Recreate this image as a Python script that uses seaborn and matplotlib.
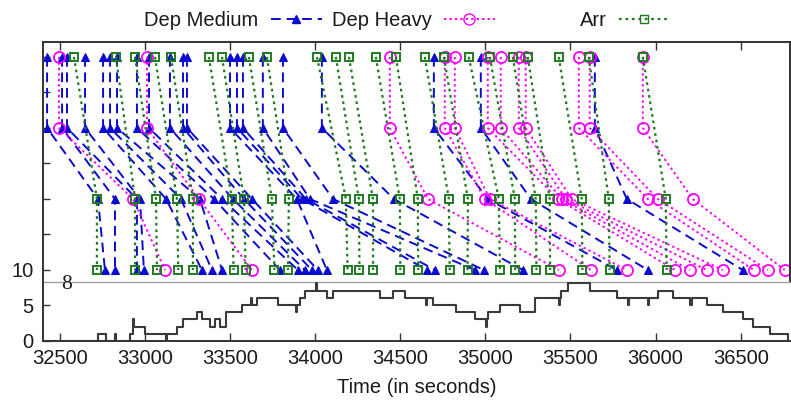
import numpy as np
import pandas as pd
import matplotlib
matplotlib.use("Agg")
import matplotlib.pyplot as plt
from matplotlib.lines import Line2D
import seaborn as sns

# ---------------- data (times in seconds) ----------------
dep_levels = [40, 30, 20, 10]
arr_levels = [40, 20, 10]

# Dep Medium (first two levels share the same time)
dm_t12 = [32424, 32512, 32541, 32647, 32753, 32794, 32835, 32952, 33023, 33146, 33223,
          33246, 33499, 33540, 33575, 33692, 33810, 34039, 34697, 34973, 35643]
dm_t3 = [32723, 32823, 32952, 32970, 33123, 33211, 33322, 33405, 33452, 33516, 33581,
         33628, 33892, 33922, 33945, 33969, 34104, 34462, 35014, 35267, 35831]
dm_t4 = [32764, 32823, 32952, 32993, 33334, 33393, 33452, 33792, 33898, 33939, 33980,
         34015, 34068, 34656, 34703, 34938, 34991, 35220, 35772, 35954, 36512]

# Dep Heavy
dh_t12 = [32494, 33011, 34438, 34761, 34820, 35014, 35090, 35196, 35237, 35549, 35613, 35925]
dh_t3 = [32929, 33316, 34662, 34996, 35026, 35425, 35449, 35472, 35507, 35954, 36013, 36218]
dh_t4 = [33117, 33628, 35431, 35619, 35831, 36113, 36201, 36300, 36394, 36577, 36659, 36759]

# Arrivals
arr_t1 = [32582, 32829, 32941, 33058, 33152, 33375, 33452, 33610, 33716, 34010, 34121, 34198,
          34356, 34474, 34644, 34756, 34902, 35026, 35161, 35249, 35431, 35607, 35925]
arr_t3 = [32717, 32941, 33064, 33187, 33281, 33510, 33581, 33745, 33845, 34180, 34256, 34339,
          34497, 34603, 34785, 34897, 35079, 35173, 35296, 35378, 35566, 35725, 36060]
arr_t4 = [32717, 32941, 33070, 33195, 33281, 33520, 33591, 33760, 33840, 34190, 34260, 34340,
          34500, 34605, 34790, 34895, 35085, 35175, 35300, 35380, 35570, 35730, 36065]

# count of aircraft (step line)
cnt_t = [32400, 32723, 32770, 32823, 32829, 32911, 32929, 32935, 32999, 33120, 33126, 33185,
         33223, 33303, 33332, 33381, 33410, 33440, 33475, 33567, 33625, 33631, 33655, 33782,
         33889, 33895, 33910, 33939, 34004, 34010, 34067, 34105, 34380, 34458, 34527, 34653,
         34659, 34693, 34830, 34938, 35002, 35008, 35016, 35085, 35202, 35290, 35431, 35437,
         35447, 35484, 35613, 35772, 35836, 35842, 35954, 35960, 36013, 36101, 36201, 36212,
         36300, 36394, 36512, 36571, 36671, 36776, 36790]
cnt_v = [0, 1, 0, 1, 0, 1, 3, 2, 1, 0, 1, 2, 3, 4, 3, 2, 3, 2, 4, 5, 6, 5, 6, 5, 4, 5, 6, 7,
         8, 7, 6, 7, 6, 7, 6, 5, 6, 5, 4, 3, 2, 3, 4, 5, 4, 6, 5, 6, 7, 8, 7, 6, 5, 6, 5, 6,
         7, 6, 5, 6, 5, 4, 3, 2, 1, 0, 0]

xticks = [32500, 33000, 33500, 34000, 34500, 35000, 35500, 36000, 36500]
series_names = ["Dep Medium", "Dep Heavy", "Arr"]


def traj_frame(times_by_level, levels, name):
    rows = []
    for i, ts in enumerate(zip(*times_by_level)):
        for t, lv in zip(ts, levels):
            rows.append((f"{name}{i}", t, lv))
    return pd.DataFrame(rows, columns=["id", "time", "level"])


df_dm = traj_frame([dm_t12, dm_t12, dm_t3, dm_t4], dep_levels, "dm")
df_dh = traj_frame([dh_t12, dh_t12, dh_t3, dh_t4], dep_levels, "dh")
df_ar = traj_frame([arr_t1, arr_t3, arr_t4], arr_levels, "ar")
df_cnt = pd.DataFrame({"time": cnt_t, "count": cnt_v})

# ---------------- style ----------------
sns.set_style("white")
plt.rcParams["font.family"] = ["Liberation Sans", "DejaVu Sans"]
plt.rcParams["font.size"] = 14.5

BLUE = "#0a0ad0"
MAG = "#ff00ff"
GREEN = "#1f7a1f"
SPINE = "#333333"
TXT = "#1a1a1a"

W, H = 791, 403
fig = plt.figure(figsize=(W / 100, H / 100), dpi=100)
ax1 = fig.add_axes([43 / W, 1 - 282 / H, 747 / W, 240 / H])
ax2 = fig.add_axes([43 / W, 1 - 341 / H, 747 / W, 59 / H])

styles = {
    "Dep Medium": dict(color=BLUE, marker="^", markersize=6, mfc=BLUE, mec=BLUE,
                       linestyle=(0, (5, 3)), lw=1.4),
    "Dep Heavy": dict(color=MAG, marker="o", markersize=8, mfc="none", mec=MAG, mew=1.3,
                      linestyle=(0, (1.2, 1.6)), lw=1.4),
    "Arr": dict(color=GREEN, marker="s", markersize=6.2, mfc="none", mec=GREEN, mew=1.4,
                linestyle=(0, (1.2, 1.7)), lw=1.6),
}

for name, df in zip(series_names, [df_dm, df_dh, df_ar]):
    sns.lineplot(data=df, x="time", y="level", units="id", estimator=None, sort=False,
                 ax=ax1, legend=False, **styles[name])

x0, x1 = 32400, 36790
ax1.set_xlim(x0, x1)
ax1.set_ylim(8.31, 42.1)
ax1.set_xticks(xticks)
ax1.tick_params(axis="x", which="both", top=True, bottom=False, labelbottom=False,
                direction="in", length=6, width=1, color=SPINE)
ax1.set_yticks([10, 15, 20, 25, 30, 35, 40])
ax1.set_yticklabels(["10", "", "", "", "", "", ""])
ax1.tick_params(axis="y", left=True, right=False, direction="in", length=5, width=1,
                color=SPINE, pad=7, labelsize=14.5, labelcolor=TXT)
ax1.set_xlabel("")
ax1.set_ylabel("")
for s in ["top", "left", "right"]:
    ax1.spines[s].set_color(SPINE)
    ax1.spines[s].set_linewidth(1.4)
ax1.spines["bottom"].set_color("#a0a0a0")
ax1.spines["bottom"].set_linewidth(1.0)
ax1.patch.set_alpha(0)

# lower panel: step line
sns.lineplot(data=df_cnt, x="time", y="count", estimator=None, sort=False, ax=ax2,
             drawstyle="steps-post", color="#3a3a3a", lw=1.5, legend=False)
ax2.set_xlim(x0, x1)
ax2.set_ylim(0, 8.2)
ax2.set_xticks(xticks)
ax2.set_yticks([0, 5])
ax2.tick_params(axis="x", bottom=True, direction="in", length=6, width=1, color=SPINE,
                pad=6, labelsize=14.5, labelcolor=TXT)
ax2.tick_params(axis="y", left=True, direction="in", length=5, width=1, color=SPINE,
                pad=7, labelsize=14.5, labelcolor=TXT)
ax2.set_xlabel("Time (in seconds)", fontsize=14.5, labelpad=7, color=TXT)
ax2.set_ylabel("")
ax2.spines["top"].set_visible(False)
ax2.spines["right"].set_visible(False)
for s in ["left", "bottom"]:
    ax2.spines[s].set_color(SPINE)
    ax2.spines[s].set_linewidth(1.4)
ax2.patch.set_alpha(0)
ax2.text(0.031, 0.95, "8", transform=ax2.transAxes, ha="center", va="center",
         fontsize=15.5, family=["Liberation Serif", "DejaVu Serif"], color=TXT)

# legend (one entry per legend so the columns line up like the reference)
anchors = [322, 495, 670]
for name, xr in zip(series_names, anchors):
    st = styles[name]
    h = Line2D([], [], color=st["color"], marker=st["marker"], markersize=st["markersize"],
               mfc=st["mfc"], mec=st["mec"], linestyle=st["linestyle"], lw=st["lw"])
    fig.legend(handles=[h], labels=[name], loc="center right",
               bbox_to_anchor=(xr / W, 1 - 20.5 / H), bbox_transform=fig.transFigure,
               frameon=False, markerfirst=False, handlelength=2.55, handletextpad=0.6,
               borderpad=0, borderaxespad=0, numpoints=1, fontsize=14.5,
               labelcolor=TXT)

fig.savefig("out.png", dpi=100)
